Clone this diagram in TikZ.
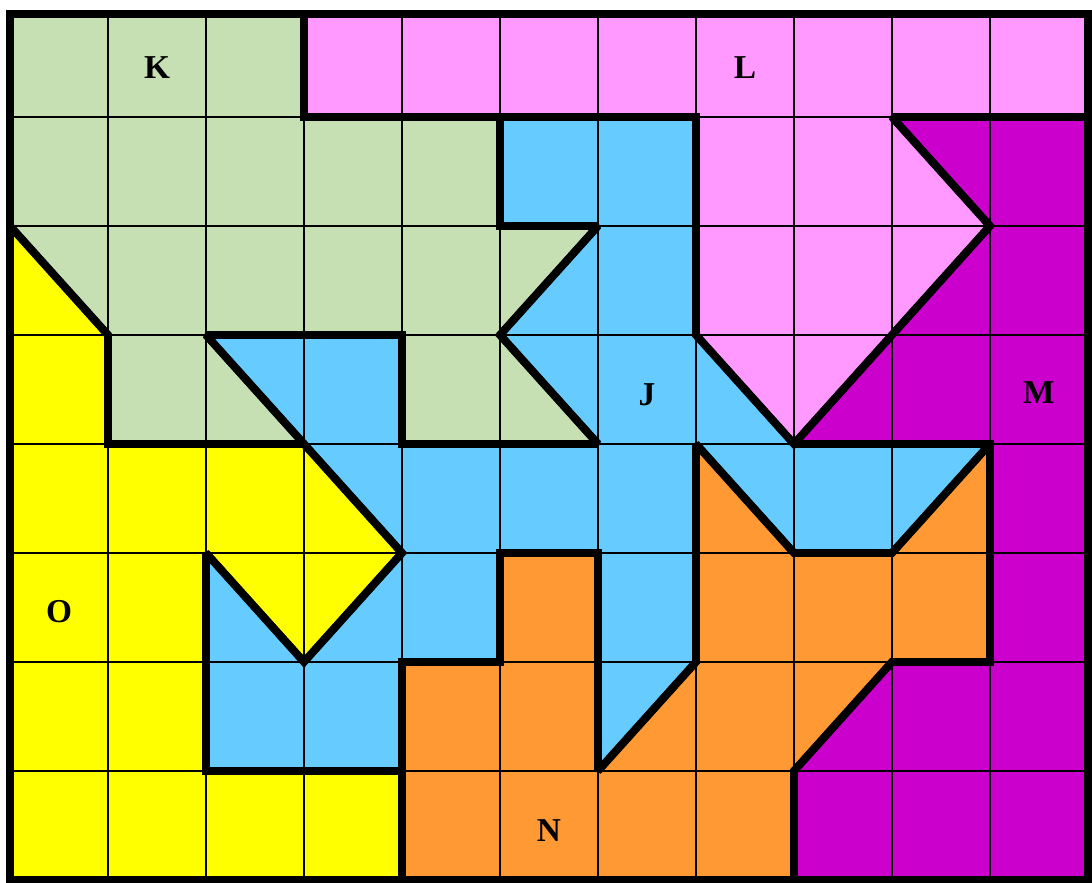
\documentclass[tikz,border=0pt]{standalone}
\usepackage{fontspec}
\setmainfont{Liberation Serif}
\usepackage{xcolor}
\usepackage{tikz}

\definecolor{regK}{HTML}{C6E0B4}
\definecolor{regL}{HTML}{FF99FF}
\definecolor{regJ}{HTML}{66CCFF}
\definecolor{regM}{HTML}{CC00CC}
\definecolor{regN}{HTML}{FF9933}
\definecolor{regO}{HTML}{FFFF00}

\begin{document}
\begin{tikzpicture}[
    x=0.98cm, y=-1.09cm,
    gridline/.style={line width=0.55pt},
    outline/.style={draw=black, line width=2.2pt, miter limit=1.6},
    lbl/.style={font=\fontsize{9.5}{11}\selectfont\bfseries, inner sep=0pt},
]
\useasboundingbox (-0.102,-0.073) rectangle (11.041,8.028);

% Region boundaries (column, row from top)
\def\pathK{(0,0.055) -- (3,0.055) -- (3,1) -- (5,1) -- (5,2) -- (6,2) -- (5,3) -- (6,4) -- (4,4) -- (4,3) -- (2,3) -- (3,4) -- (1,4) -- (1,3) -- (0,2) -- cycle}
\def\pathL{(3,0.055) -- (11,0.055) -- (11,1) -- (9,1) -- (10,2) -- (9,3) -- (8,4) -- (7,3) -- (7,1) -- (3,1) -- cycle}
\def\pathM{(9,1) -- (11,1) -- (11,8) -- (8,8) -- (8,7) -- (9,6) -- (10,6) -- (10,4) -- (8,4) -- (9,3) -- (10,2) -- cycle}
\def\pathN{(4,8) -- (4,6) -- (5,6) -- (5,5) -- (6,5) -- (6,7) -- (7,6) -- (7,4) -- (8,5) -- (9,5) -- (10,4) -- (10,6) -- (9,6) -- (8,7) -- (8,8) -- cycle}
\def\pathO{(0,2) -- (1,3) -- (1,4) -- (3,4) -- (4,5) -- (3,6) -- (2,5) -- (2,7) -- (4,7) -- (4,8) -- (0,8) -- cycle}
\def\pathJ{(5,1) -- (7,1) -- (7,3) -- (8,4) -- (10,4) -- (9,5) -- (8,5) -- (7,4) -- (7,6) -- (6,7) -- (6,5) -- (5,5) -- (5,6) -- (4,6) -- (4,7) -- (2,7) -- (2,5) -- (3,6) -- (4,5) -- (3,4) -- (2,3) -- (4,3) -- (4,4) -- (6,4) -- (5,3) -- (6,2) -- (5,2) -- cycle}

% Fills
\fill[regK] \pathK;
\fill[regL] \pathL;
\fill[regM] \pathM;
\fill[regN] \pathN;
\fill[regO] \pathO;
\fill[regJ] \pathJ;

% Thin grid
\foreach \c in {1,...,10}
    \draw[gridline] (\c,0.055) -- (\c,8);
\foreach \r in {1,...,7}
    \draw[gridline] (0,\r) -- (11,\r);

% Thick outlines
\draw[outline] \pathK;
\draw[outline] \pathL;
\draw[outline] \pathM;
\draw[outline] \pathN;
\draw[outline] \pathO;
\draw[outline] \pathJ;
\draw[outline] (0,0.055) rectangle (11,8);

% Labels
\node[lbl] (K) at (1.5,0.55) {K};
\node[lbl] (L) at (7.5,0.55) {L};
\node[lbl] (J) at (6.5,3.55) {J};
\node[lbl] (M) at (10.5,3.53) {M};
\node[lbl] (O) at (0.5,5.54) {O};
\node[lbl] (N) at (5.5,7.55) {N};
\end{tikzpicture}
\end{document}
